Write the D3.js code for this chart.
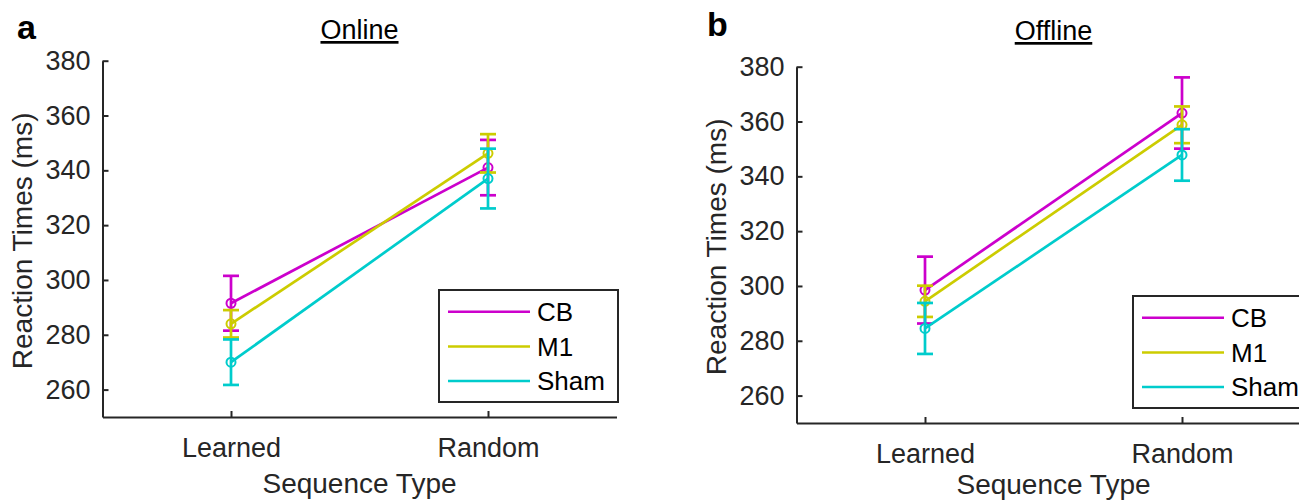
<!DOCTYPE html>
<html>
<head>
<meta charset="utf-8">
<script src="https://cdn.jsdelivr.net/npm/d3@7"></script>
<style>
	body { margin: 0; background: #fff; }
	svg { font-family: "Liberation Sans", Arial, sans-serif; }
</style>
</head>
<body>
<svg width="1299" height="501"></svg>
<script>
var categories = ["Learned", "Random"];
var groups = ["CB", "M1", "Sham"];
var colors = ["#cc00cc", "#cccc00", "#00cccc"];
var yTicks = [260, 280, 300, 320, 340, 360, 380];

// mean reaction time per group, [Learned, Random]
var onlineMeans = [[291.5, 341.0], [284.0, 346.2], [270.0, 337.0]];
var onlineErrs = [[10.0, 10.1], [5.0, 7.0], [8.3, 10.9]];
var offlineMeans = [[298.5, 363.1], [294.4, 358.8], [284.5, 347.8]];
var offlineErrs = [[12.2, 13.0], [5.7, 6.7], [9.3, 9.4]];

var svg = d3.select("svg");
var ink = "#262626";

var x = d3.scaleLinear().domain([0.5, 2.5]).range([102.5, 616.5]);
var y = d3.scaleLinear().domain([250, 380]).range([417, 60.7]);

var panels = [
	{letter: "a", title: "Online", means: onlineMeans, errs: onlineErrs, dx: 0, dy: 0, lx: 17, ly: 39, ty: 39, sy: 493},
	{letter: "b", title: "Offline", means: offlineMeans, errs: offlineErrs, dx: 694, dy: 6, lx: 13, ly: 30, ty: 34, sy: 487.5}
];

panels.forEach(function(p) {
	var g = svg.append("g").attr("transform", "translate(" + p.dx + "," + p.dy + ")");

	// axes
	var ya = g.append("g")
		.attr("transform", "translate(" + x.range()[0] + ",0)")
		.call(d3.axisLeft(y).tickValues(yTicks).tickSizeInner(-6).tickSizeOuter(0).tickPadding(12));
	var xa = g.append("g")
		.attr("transform", "translate(0," + y.range()[0] + ")")
		.call(d3.axisBottom(x).tickValues([1, 2]).tickFormat(function(d) { return categories[d - 1]; })
			.tickSizeInner(-6).tickSizeOuter(0));
	[ya, xa].forEach(function(a) {
		a.select(".domain").attr("stroke", ink).attr("stroke-width", 2);
		a.selectAll(".tick line").attr("stroke", ink).attr("stroke-width", 2);
		a.selectAll("text").attr("fill", ink).style("font-size", "27px").attr("font-family", null);
	});
	xa.selectAll("text").attr("dy", null).attr("y", 40);

	g.append("text")
		.attr("transform", "translate(32," + (y(315) + 2) + ") rotate(-90)")
		.attr("text-anchor", "middle")
		.attr("fill", ink)
		.style("font-size", "28px")
		.text("Reaction Times (ms)");
	g.append("text")
		.attr("x", (x.range()[0] + x.range()[1]) / 2)
		.attr("y", p.sy)
		.attr("text-anchor", "middle")
		.attr("fill", ink)
		.style("font-size", "28px")
		.text("Sequence Type");
	g.append("text")
		.attr("x", (x.range()[0] + x.range()[1]) / 2)
		.attr("y", p.ty)
		.attr("text-anchor", "middle")
		.attr("fill", "#000")
		.style("font-size", "27px")
		.style("text-decoration", "underline")
		.text(p.title);
	g.append("text")
		.attr("x", p.lx)
		.attr("y", p.ly)
		.attr("fill", "#000")
		.style("font-size", "34px")
		.style("font-weight", "bold")
		.text(p.letter);

	// series: connecting line, error bars, open markers
	groups.forEach(function(name, i) {
		var pts = p.means[i].map(function(m, j) { return {x: j + 1, m: m, e: p.errs[i][j]}; });
		var s = g.append("g").attr("stroke", colors[i]).attr("stroke-width", 2.7).attr("fill", "none");
		s.append("path")
			.attr("d", d3.line().x(function(d) { return x(d.x); }).y(function(d) { return y(d.m); })(pts));
		var eb = s.selectAll(".eb").data(pts).enter().append("g");
		eb.append("line")
			.attr("x1", function(d) { return x(d.x); }).attr("x2", function(d) { return x(d.x); })
			.attr("y1", function(d) { return y(d.m - d.e); }).attr("y2", function(d) { return y(d.m + d.e); });
		[-1, 1].forEach(function(sg) {
			eb.append("line")
				.attr("x1", function(d) { return x(d.x) - 8; }).attr("x2", function(d) { return x(d.x) + 8; })
				.attr("y1", function(d) { return y(d.m + sg * d.e); }).attr("y2", function(d) { return y(d.m + sg * d.e); });
		});
		eb.append("circle")
			.attr("cx", function(d) { return x(d.x); })
			.attr("cy", function(d) { return y(d.m); })
			.attr("r", 4.5)
			.attr("stroke-width", 2);
	});

	// legend
	var lg = g.append("g");
	lg.append("rect")
		.attr("x", 439).attr("y", 290).attr("width", 179).attr("height", 112)
		.attr("fill", "#fff").attr("stroke", ink).attr("stroke-width", 2);
	groups.forEach(function(name, i) {
		var ry = 311.7 + i * 34.7;
		lg.append("line")
			.attr("x1", 448).attr("x2", 530).attr("y1", ry).attr("y2", ry)
			.attr("stroke", colors[i]).attr("stroke-width", 2.5);
		lg.append("text")
			.attr("x", 537).attr("y", ry).attr("dy", "0.36em")
			.attr("fill", "#000")
			.style("font-size", "26px")
			.text(name);
	});
});
</script>
</body>
</html>
